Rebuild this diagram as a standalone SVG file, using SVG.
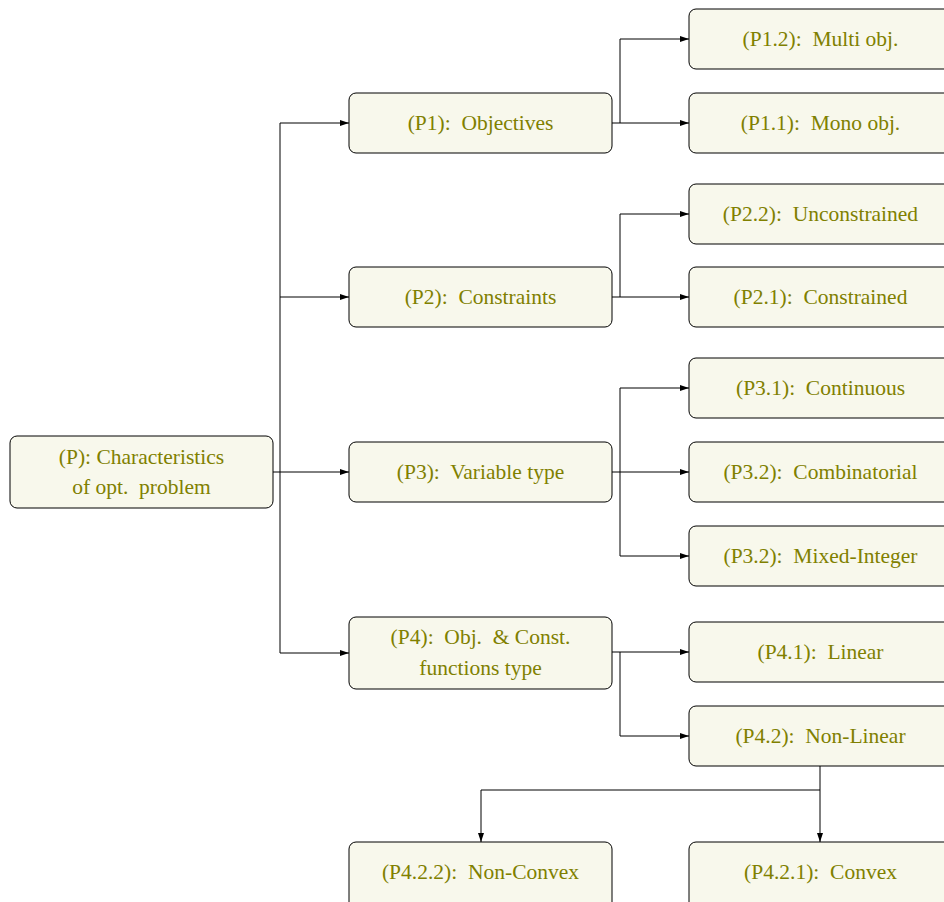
<svg xmlns="http://www.w3.org/2000/svg" width="944" height="902" viewBox="0 0 944 902">
<style>
.n rect{fill:#f8f8ec;stroke:#000;stroke-width:1}
.n text{fill:#808000;font-family:"Liberation Serif","DejaVu Serif",serif;font-size:21.5px;text-anchor:middle;white-space:pre}
.c path{fill:none;stroke:#000;stroke-width:1}
</style>
<defs>
<marker id="a" markerWidth="9" markerHeight="6" refX="9" refY="3" orient="auto" markerUnits="userSpaceOnUse">
<path d="M0,0 L9,3 L0,6 z" fill="#000"/>
</marker>
</defs>
<g class="c">
<path d="M273,472 H280"/>
<path d="M280,123 V653"/>
<path d="M280,123 H349" marker-end="url(#a)"/>
<path d="M280,297 H349" marker-end="url(#a)"/>
<path d="M280,472 H349" marker-end="url(#a)"/>
<path d="M280,653 H349" marker-end="url(#a)"/>
<path d="M612,123 H689" marker-end="url(#a)"/>
<path d="M620,123 V39 H689" marker-end="url(#a)"/>
<path d="M612,297 H689" marker-end="url(#a)"/>
<path d="M620,297 V214 H689" marker-end="url(#a)"/>
<path d="M612,472 H689" marker-end="url(#a)"/>
<path d="M620,472 V388 H689" marker-end="url(#a)"/>
<path d="M620,472 V556 H689" marker-end="url(#a)"/>
<path d="M612,652 H689" marker-end="url(#a)"/>
<path d="M620,652 V736 H689" marker-end="url(#a)"/>
<path d="M820,766 V842" marker-end="url(#a)"/>
<path d="M820,790 H481 V842" marker-end="url(#a)"/>
</g>
<g id="P" class="n"><rect x="10" y="436" width="263" height="72" rx="7"/><text x="141.5" y="464">(P): Characteristics</text><text x="141.5" y="494">of opt.  problem</text></g>
<g id="P1" class="n"><rect x="349" y="93" width="263" height="60" rx="7"/><text x="480.5" y="130">(P1):  Objectives</text></g>
<g id="P2" class="n"><rect x="349" y="267" width="263" height="60" rx="7"/><text x="480.5" y="304">(P2):  Constraints</text></g>
<g id="P3" class="n"><rect x="349" y="442" width="263" height="60" rx="7"/><text x="480.5" y="479">(P3):  Variable type</text></g>
<g id="P4" class="n"><rect x="349" y="617" width="263" height="72" rx="7"/><text x="480.5" y="644">(P4):  Obj.  &amp; Const.</text><text x="480.5" y="675">functions type</text></g>
<g id="P12" class="n"><rect x="689" y="9" width="263" height="60" rx="7"/><text x="820.5" y="46">(P1.2):  Multi obj.</text></g>
<g id="P11" class="n"><rect x="689" y="93" width="263" height="60" rx="7"/><text x="820.5" y="130">(P1.1):  Mono obj.</text></g>
<g id="P22" class="n"><rect x="689" y="184" width="263" height="60" rx="7"/><text x="820.5" y="221">(P2.2):  Unconstrained</text></g>
<g id="P21" class="n"><rect x="689" y="267" width="263" height="60" rx="7"/><text x="820.5" y="304">(P2.1):  Constrained</text></g>
<g id="P31" class="n"><rect x="689" y="358" width="263" height="60" rx="7"/><text x="820.5" y="395">(P3.1):  Continuous</text></g>
<g id="P32" class="n"><rect x="689" y="442" width="263" height="60" rx="7"/><text x="820.5" y="479">(P3.2):  Combinatorial</text></g>
<g id="P33" class="n"><rect x="689" y="526" width="263" height="60" rx="7"/><text x="820.5" y="563">(P3.2):  Mixed-Integer</text></g>
<g id="P41" class="n"><rect x="689" y="622" width="263" height="60" rx="7"/><text x="820.5" y="659">(P4.1):  Linear</text></g>
<g id="P42" class="n"><rect x="689" y="706" width="263" height="60" rx="7"/><text x="820.5" y="743">(P4.2):  Non-Linear</text></g>
<g id="P422" class="n"><rect x="349" y="842" width="263" height="70" rx="7"/><text x="480.5" y="879">(P4.2.2):  Non-Convex</text></g>
<g id="P421" class="n"><rect x="689" y="842" width="263" height="70" rx="7"/><text x="820.5" y="879">(P4.2.1):  Convex</text></g>
</svg>
